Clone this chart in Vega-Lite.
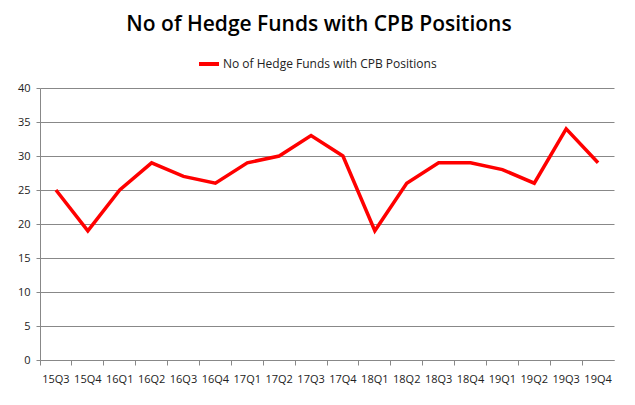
{
  "$schema": "https://vega.github.io/schema/vega-lite/v6.json",
  "autosize": "none",
  "width": 574,
  "height": 272,
  "padding": {"left": 40, "top": 88, "right": 21, "bottom": 45},
  "background": "white",
  "title": {
    "text": "No of Hedge Funds with CPB Positions",
    "anchor": "middle",
    "offset": 17,
    "dx": -8,
    "fontSize": 21,
    "font": "Open Sans",
    "fontWeight": 600,
    "color": "black"
  },
  "config": {
    "view": {"stroke": null},
    "font": "Open Sans"
  },
  "data": {
    "values": [
      {"q": "15Q3", "v": 25, "s": "No of Hedge Funds with CPB Positions"},
      {"q": "15Q4", "v": 19, "s": "No of Hedge Funds with CPB Positions"},
      {"q": "16Q1", "v": 25, "s": "No of Hedge Funds with CPB Positions"},
      {"q": "16Q2", "v": 29, "s": "No of Hedge Funds with CPB Positions"},
      {"q": "16Q3", "v": 27, "s": "No of Hedge Funds with CPB Positions"},
      {"q": "16Q4", "v": 26, "s": "No of Hedge Funds with CPB Positions"},
      {"q": "17Q1", "v": 29, "s": "No of Hedge Funds with CPB Positions"},
      {"q": "17Q2", "v": 30, "s": "No of Hedge Funds with CPB Positions"},
      {"q": "17Q3", "v": 33, "s": "No of Hedge Funds with CPB Positions"},
      {"q": "17Q4", "v": 30, "s": "No of Hedge Funds with CPB Positions"},
      {"q": "18Q1", "v": 19, "s": "No of Hedge Funds with CPB Positions"},
      {"q": "18Q2", "v": 26, "s": "No of Hedge Funds with CPB Positions"},
      {"q": "18Q3", "v": 29, "s": "No of Hedge Funds with CPB Positions"},
      {"q": "18Q4", "v": 29, "s": "No of Hedge Funds with CPB Positions"},
      {"q": "19Q1", "v": 28, "s": "No of Hedge Funds with CPB Positions"},
      {"q": "19Q2", "v": 26, "s": "No of Hedge Funds with CPB Positions"},
      {"q": "19Q3", "v": 34, "s": "No of Hedge Funds with CPB Positions"},
      {"q": "19Q4", "v": 29, "s": "No of Hedge Funds with CPB Positions"}
    ]
  },
  "mark": {"type": "line", "strokeWidth": 3.5, "strokeJoin": "miter"},
  "encoding": {
    "x": {
      "field": "q",
      "type": "ordinal",
      "bandPosition": 0.5,
      "scale": {"type": "band", "paddingInner": 0, "paddingOuter": 0},
      "axis": {
        "title": null,
        "labelAngle": 0,
        "labelFontSize": 11,
        "labelColor": "#222",
        "labelPadding": 8,
        "domainColor": "#888",
        "tickColor": "#888",
        "tickSize": 5,
        "bandPosition": 0,
        "grid": false
      }
    },
    "y": {
      "field": "v",
      "type": "quantitative",
      "scale": {"domain": [0, 40]},
      "axis": {
        "title": null,
        "values": [0, 5, 10, 15, 20, 25, 30, 35, 40],
        "labelFontSize": 11,
        "labelColor": "#222",
        "labelPadding": 6,
        "domainColor": "#888",
        "tickColor": "#888",
        "tickSize": 4,
        "gridColor": "#888",
        "gridWidth": 1
      }
    },
    "color": {
      "field": "s",
      "type": "nominal",
      "scale": {"range": ["#ff0000"]},
      "legend": {
        "title": null,
        "orient": "none",
        "legendX": 157,
        "legendY": -36,
        "symbolType": "stroke",
        "symbolStrokeWidth": 4,
        "symbolSize": 400,
        "labelFontSize": 12,
        "labelColor": "#222",
        "labelOffset": 2,
        "labelLimit": 0
      }
    }
  }
}
